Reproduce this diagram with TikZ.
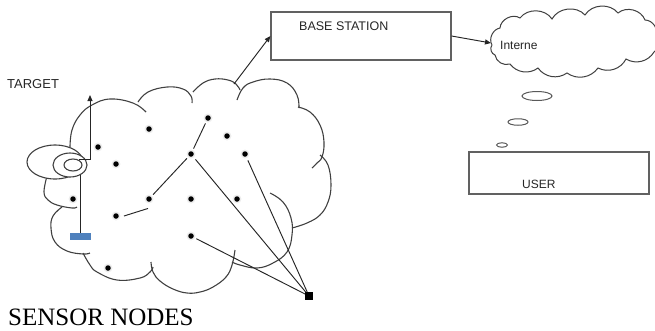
\documentclass[tikz,border=0pt]{standalone}
\usepackage{fontspec}
\setmainfont{Liberation Serif}
\setsansfont{Liberation Sans}
\usetikzlibrary{arrows.meta,shapes.geometric}
\begin{document}
\begin{tikzpicture}[x=1pt,y=-1pt,
  cl/.style={draw=black!75, line width=1.1pt},
  ell/.style={ellipse, draw=black!75, line width=1.1pt, fill=white, inner sep=0pt},
  dot/.style={circle, fill=black, inner sep=0pt, minimum size=5.5pt},
  halo/.style={fill=black!7},
  conn/.style={draw=black!85, line width=0.95pt},
  arr/.style={conn, -{Triangle[length=6pt,width=5pt]}},
  box/.style={rectangle, draw=black!62, line width=1.2pt, inner sep=0pt},
  lbl/.style={font=\fontsize{12.5}{14}\selectfont\sffamily, inner sep=0pt, text=black!85},
  bub/.style={ellipse, draw=black!65, line width=1pt, inner sep=0pt}]
\useasboundingbox (0,0) rectangle (655,330);

% ---------- big sensor cloud ----------
\draw[cl] plot[smooth, tension=0.7] coordinates {(70,147) (72,130) (80,115) (92,105) (110,99) (133,103) (146,112)};
\draw[cl] plot[smooth, tension=0.7] coordinates {(138,102) (148,92) (167,87) (183,89) (191,96) (192,103)};
\draw[cl] plot[smooth, tension=0.7] coordinates {(193,92) (203,83) (215,79) (228,80) (236,84) (240,90)};
\draw[cl] plot[smooth, tension=0.7] coordinates {(237,100) (243,88) (253,82) (270,79) (287,83) (297,95) (299,108)};
\draw[cl] plot[smooth, tension=0.7] coordinates {(298,107) (310,112) (320,125) (324,142) (322,157) (317,163) (312,168)};
\draw[cl] plot[smooth, tension=0.7] coordinates {(320,155) (328,165) (331,185) (328,202) (320,215) (307,223) (292,228)};
\draw[cl] plot[smooth, tension=0.7] coordinates {(270,193) (283,202) (291,218) (292,235) (287,252) (273,263) (257,268) (240,265) (232,262)};
\draw[cl] plot[smooth, tension=0.7] coordinates {(235,250) (232,265) (226,277) (213,287) (200,292) (187,293) (173,289) (160,281) (153,272) (151,262)};
\draw[cl] plot[smooth, tension=0.7] coordinates {(83,253) (90,265) (97,272) (117,280) (140,278) (150,272) (153,267)};
\draw[cl] plot[smooth, tension=0.7] coordinates {(62,207) (53,216) (51,228) (55,242) (67,251) (83,254) (90,253)};
\draw[cl] plot[smooth, tension=0.7] coordinates {(47,176) (44,192) (48,200) (57,205) (72,208) (77,207)};

% ---------- target ----------
\node[rectangle, fill={rgb,255:red,79;green,129;blue,189}, minimum width=21pt, minimum height=7pt, inner sep=0pt] (rect) at (80.5,236.5) {};
\coordinate (tgt) at (90,95);
\node[ell, minimum width=56pt, minimum height=34pt] (outer) at (55,162) {};
\draw[conn] (rect.north) -- (80.5,172);
\node[ell, minimum width=34pt, minimum height=24pt] (mid) at (70,165) {};
\node[ell, minimum width=18pt, minimum height=12pt] (inner) at (73,165) {};
\draw[arr] (inner.40) -| (tgt);
\node[font=\fontsize{13}{15}\selectfont\sffamily, inner sep=0pt, anchor=west, text=black!85] (target) at (7,84) {TARGET};

% ---------- sensor dots ----------
\foreach \n/\p in {d1/{(149,129)}, d2/{(208,118)}, d3/{(98,147)}, d4/{(227,136)}, d5/{(116,164)},
  d6/{(191,154)}, d7/{(245,154)}, d8/{(73,199)}, d9/{(149,199)}, d10/{(191,199)}, d11/{(237,199)},
  d12/{(116,216)}, d13/{(191,236)}, d14/{(108,268)}}{
  \fill[halo] \p circle (4.5pt);
  \node[dot] (\n) at \p {};
}
\node[rectangle, fill=black, minimum size=7.5pt, inner sep=0pt] (sink) at (309,296) {};

\draw[conn] ([xshift=5pt]d12.east) -- ([shift={(-1pt,-6.5pt)}]d9.south);
\draw[conn, shorten <=3pt, shorten >=3pt] (d9) -- (d6);
\draw[conn, shorten <=3pt, shorten >=3pt] (d6) -- (d2);
\draw[conn, shorten <=4pt] (d6) -- (sink);
\draw[conn, shorten <=4pt] (d7) -- (sink);
\draw[conn, shorten <=3pt] (d13) -- (sink);

% ---------- base station ----------
\node[box, minimum width=180pt, minimum height=48pt] (bs) at (361,36) {};
\node[lbl, anchor=west] (bstxt) at (299,26) {BASE STATION};
\coordinate (cloudtop) at (234,84);
\draw[arr] (cloudtop) -- (bs.west);

% ---------- internet cloud ----------
\coordinate (inet) at (491,43);
\draw[cl, line width=1pt] (492,45) to[bend left=55] (500,28) to[bend left=60] (520,18)
  to[bend left=55] (552,19) to[bend left=55] (585,15) to[bend left=55] (618,13)
  to[bend left=55] (645,20) to[bend left=55] (656,36) to[bend left=55] (654,52)
  to[bend left=45] (626,59) to[bend left=45] (598,68) to[bend left=45] (567,73)
  to[bend left=45] (538,68) to[bend left=45] (510,64) to[bend left=50] (495,55)
  to[bend left=55] (492,45);
\draw[arr] (bs.east) -- (inet);
\node[font=\fontsize{12}{14}\selectfont\sffamily, inner sep=0pt, anchor=west, text=black!85] (inettxt) at (500,45) {Interne};

\node[bub, minimum width=30pt, minimum height=9pt] (b1) at (537,96) {};
\node[bub, minimum width=20pt, minimum height=6.5pt] (b2) at (518,122) {};
\node[bub, minimum width=11pt, minimum height=4.5pt] (b3) at (502,145) {};

% ---------- user ----------
\node[box, minimum width=180pt, minimum height=42pt] (user) at (559,173) {};
\node[lbl, font=\fontsize{12}{14}\selectfont\sffamily, anchor=west] (usertxt) at (522,184) {USER};

% ---------- caption ----------
\node[font=\fontsize{25}{28}\selectfont\rmfamily, inner sep=0pt, anchor=base west] (cap) at (8,325) {SENSOR NODES};
\end{tikzpicture}
\end{document}
